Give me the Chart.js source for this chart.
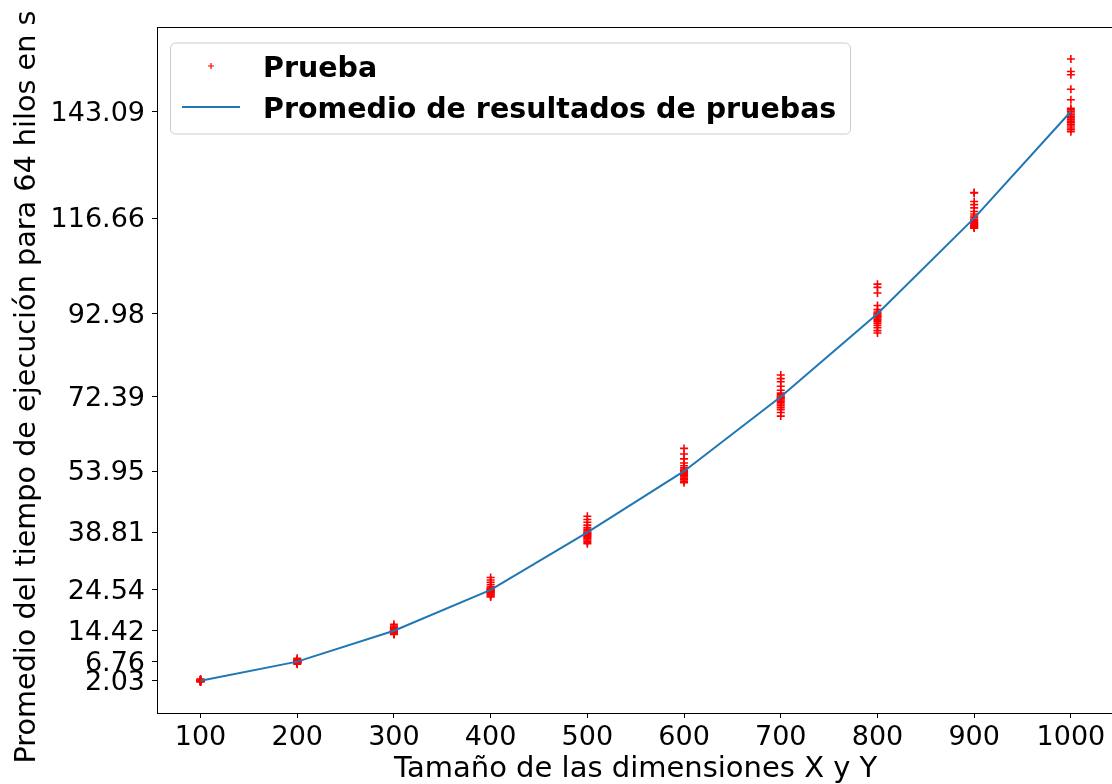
<!DOCTYPE html>
<html lang="es">
<head>
<meta charset="utf-8">
<title>Tiempo de ejecución con 64 hilos</title>
<script src="https://cdn.jsdelivr.net/npm/chart.js@4/dist/chart.umd.min.js"></script>
<style>
  html, body { margin: 0; padding: 0; overflow: hidden; background: #fff; }
  #wrap { width: 1120px; height: 784px; position: relative; }
</style>
</head>
<body>
<div id="wrap"><canvas id="grafico"></canvas></div>
<script>
// Tamaños de la matriz (X = Y)
const tamanos = [100, 200, 300, 400, 500, 600, 700, 800, 900, 1000];

// Promedio de las pruebas para cada tamaño (también son las marcas del eje Y)
const promedios = [2.03, 6.76, 14.42, 24.54, 38.81, 53.95, 72.39, 92.98, 116.66, 143.09];

// Tiempos de cada prueba, en segundos
const pruebas100 = [2.45, 2.3, 2.2, 2.15, 2.1, 2.08, 2.05, 2.03, 2.02, 2.0, 1.98, 1.97, 1.95, 1.94, 1.92, 1.9, 1.88, 1.85, 1.8, 1.76];
const pruebas200 = [7.6, 7.3, 7.1, 7.0, 6.9, 6.85, 6.8, 6.78, 6.75, 6.72, 6.7, 6.68, 6.65, 6.6, 6.55, 6.5, 6.45, 6.4, 6.3, 6.1];
const pruebas300 = [16.0, 15.6, 15.3, 15.0, 14.8, 14.65, 14.55, 14.45, 14.4, 14.35, 14.3, 14.25, 14.2, 14.1, 14.0, 13.9, 13.8, 13.7, 13.6, 13.5];
const pruebas400 = [27.6, 27.0, 26.4, 25.8, 25.3, 25.0, 24.8, 24.6, 24.5, 24.4, 24.3, 24.2, 24.1, 24.0, 23.9, 23.7, 23.5, 23.3, 23.0, 22.8];
const pruebas500 = [42.8, 42.0, 41.3, 40.6, 40.0, 39.6, 39.2, 38.9, 38.7, 38.5, 38.3, 38.1, 37.9, 37.7, 37.5, 37.2, 36.9, 36.6, 36.3, 36.0];
const pruebas600 = [59.6, 58.2, 57.0, 56.0, 55.3, 54.8, 54.5, 54.2, 54.0, 53.8, 53.6, 53.4, 53.2, 53.0, 52.8, 52.5, 52.2, 51.9, 51.5, 51.1];
const pruebas700 = [77.8, 76.9, 76.1, 75.0, 74.0, 73.3, 72.9, 72.6, 72.3, 72.1, 71.9, 71.6, 71.3, 71.0, 70.6, 70.2, 69.7, 69.2, 68.5, 67.6];
const pruebas800 = [100.3, 99.5, 98.1, 95.0, 94.0, 93.4, 93.1, 92.9, 92.6, 92.4, 92.2, 91.9, 91.6, 91.3, 91.0, 90.6, 90.1, 89.5, 88.8, 88.2];
const pruebas900 = [123.0, 122.9, 120.8, 120.0, 119.2, 118.3, 117.7, 117.2, 116.8, 116.4, 116.1, 115.8, 115.5, 115.3, 115.1, 114.9, 114.7, 114.5, 114.3, 114.2];
const pruebas1000 = [156.1, 153.0, 152.2, 148.6, 146.0, 143.9, 143.5, 143.1, 142.7, 142.3, 141.9, 141.5, 141.1, 140.7, 140.3, 139.9, 139.5, 139.0, 138.6, 138.1];

const pruebas = [pruebas100, pruebas200, pruebas300, pruebas400, pruebas500,
                 pruebas600, pruebas700, pruebas800, pruebas900, pruebas1000];

// Límites de los ejes (márgenes del 5%)
const limX = [55, 1045];
const limY = [-5.97, 164.03];

const tituloX = "Tamaño de las dimensiones X y Y";
const tituloY = "Promedio del tiempo de ejecución para 64 hilos en s";

const puntos = [];
tamanos.forEach((t, i) => pruebas[i].forEach(v => puntos.push({ x: t, y: v })));
const linea = tamanos.map((t, i) => ({ x: t, y: promedios[i] }));

const FUENTE = "'DejaVu Sans', sans-serif";
const ROJO = "#ff0000";
const AZUL = "#1f77b4";

// Marco completo alrededor del área de trazado
const marco = {
  id: "marco",
  afterDraw(chart) {
    const { ctx, chartArea: a } = chart;
    ctx.save();
    ctx.strokeStyle = "#000";
    ctx.lineWidth = 1;
    ctx.strokeRect(a.left + 0.5, a.top + 0.5, a.right - a.left, a.bottom - a.top);
    ctx.restore();
  }
};

// Título del eje Y, girado (un poco más abajo que el centro del eje)
const ejeY = {
  id: "ejeY",
  afterDraw(chart) {
    const ctx = chart.ctx;
    ctx.save();
    ctx.translate(35, 387);
    ctx.rotate(-Math.PI / 2);
    ctx.fillStyle = "#000";
    ctx.font = "28.7px " + FUENTE;
    ctx.textAlign = "center";
    ctx.textBaseline = "alphabetic";
    ctx.fillText(tituloY, 0, 0);
    ctx.restore();
  }
};

// Leyenda dentro del gráfico, arriba a la izquierda
const leyenda = {
  id: "leyenda",
  afterDraw(chart) {
    const ctx = chart.ctx;
    const ds = chart.data.datasets;
    const x = 170, y = 42.5, w = 680, h = 91;
    ctx.save();
    ctx.beginPath();
    ctx.roundRect(x + 0.5, y + 0.5, w, h, 5);
    ctx.fillStyle = "rgba(255,255,255,0.8)";
    ctx.fill();
    ctx.strokeStyle = "#cccccc";
    ctx.lineWidth = 1;
    ctx.stroke();

    // Prueba: cruz roja
    const p = ds[1];
    ctx.strokeStyle = p.borderColor;
    ctx.lineWidth = 1.2;
    ctx.beginPath();
    ctx.moveTo(208, 66); ctx.lineTo(214, 66);
    ctx.moveTo(211, 63); ctx.lineTo(211, 69);
    ctx.stroke();

    // Promedio: segmento azul
    const l = ds[0];
    ctx.strokeStyle = l.borderColor;
    ctx.lineWidth = l.borderWidth;
    ctx.beginPath();
    ctx.moveTo(182, 107); ctx.lineTo(240, 107);
    ctx.stroke();

    ctx.fillStyle = "#000";
    ctx.font = "bold 28.5px " + FUENTE;
    ctx.textBaseline = "alphabetic";
    ctx.textAlign = "left";
    ctx.fillText(p.label, 263, 77);
    ctx.fillText(l.label, 263, 118);
    ctx.restore();
  }
};

new Chart(document.getElementById("grafico"), {
  type: "scatter",
  data: {
    datasets: [
      {
        label: "Promedio de resultados de pruebas",
        data: linea,
        showLine: true,
        borderColor: AZUL,
        backgroundColor: AZUL,
        borderWidth: 2,
        pointRadius: 0,
        order: 0
      },
      {
        label: "Prueba",
        data: puntos,
        pointStyle: "cross",
        pointRadius: 4,
        borderColor: ROJO,
        backgroundColor: ROJO,
        borderWidth: 1.6,
        order: 1
      }
    ]
  },
  options: {
    responsive: true,
    maintainAspectRatio: false,
    animation: false,
    layout: { padding: { left: 0, top: 27, right: 5, bottom: 0 } },
    plugins: {
      legend: { display: false },
      tooltip: { enabled: false }
    },
    scales: {
      x: {
        type: "linear",
        min: limX[0],
        max: limX[1],
        afterBuildTicks: s => { s.ticks = tamanos.map(v => ({ value: v })); },
        afterFit: s => { s.height = 71; },
        grid: { drawOnChartArea: false, drawTicks: true, tickLength: 5, tickColor: "#000" },
        border: { color: "#000", width: 1 },
        ticks: {
          color: "#000",
          font: { family: FUENTE, size: 27 },
          padding: 4,
          maxRotation: 0,
          autoSkip: false,
          callback: v => String(v)
        },
        title: {
          display: true,
          text: tituloX,
          color: "#000",
          font: { family: FUENTE, size: 29 },
          padding: { top: 0, bottom: -3 }
        }
      },
      y: {
        type: "linear",
        min: limY[0],
        max: limY[1],
        afterBuildTicks: s => { s.ticks = promedios.map(v => ({ value: v })); },
        afterFit: s => { s.width = 157; },
        grid: { drawOnChartArea: false, drawTicks: true, tickLength: 5, tickColor: "#000" },
        border: { color: "#000", width: 1 },
        ticks: {
          color: "#000",
          font: { family: FUENTE, size: 27 },
          padding: 7,
          labelOffset: 2,
          autoSkip: false,
          callback: v => v.toFixed(2)
        },
        title: { display: false }
      }
    }
  },
  plugins: [marco, ejeY, leyenda]
});
</script>
</body>
</html>
